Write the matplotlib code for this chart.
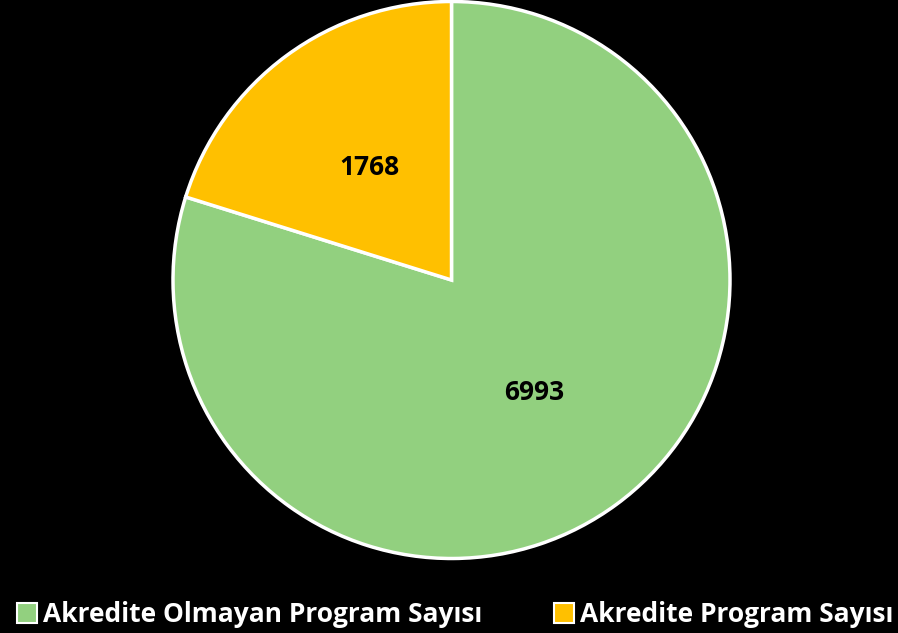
import matplotlib.pyplot as plt

labels = ["Akredite Olmayan Program Sayısı", "Akredite Program Sayısı"]
values = [6993, 1768]
colors = ["#92d07f", "#ffc000"]

plt.rcParams['font.family'] = ['Open Sans', 'DejaVu Sans']

fig = plt.figure(figsize=(8.98, 6.33), dpi=100, facecolor="black")
# axes sized so the pie (radius 1) spans about 557 px
W, H = 898, 633
cx, cy, r = 451.5, 633 - 280, 278.5
ax = fig.add_axes([(cx - r) / W, (cy - r) / H, 2 * r / W, 2 * r / H])
ax.set_facecolor("black")

wedges, texts, autotexts = ax.pie(
    values, colors=colors, startangle=90, counterclock=False,
    autopct=lambda p: "%d" % round(p * sum(values) / 100),
    pctdistance=0.5,
    wedgeprops=dict(edgecolor="white", linewidth=2.5),
    textprops=dict(fontsize=19, fontweight="bold", color="black"),
)
ax.set_xlim(-1, 1)
ax.set_ylim(-1, 1)
ax.set_aspect("equal")
ax.axis("off")

leg = fig.legend(wedges, labels, loc="lower center", bbox_to_anchor=(0.507, -0.03),
                 ncol=2, frameon=False, handlelength=0.75, handleheight=0.75,
                 handletextpad=0.25, columnspacing=2.7,
                 prop=dict(size=19, weight="bold"))
for t in leg.get_texts():
    t.set_color("white")
for h in leg.legend_handles:
    h.set_edgecolor("white")
    h.set_linewidth(1.5)

fig.savefig("out.png", dpi=100, facecolor="black")
